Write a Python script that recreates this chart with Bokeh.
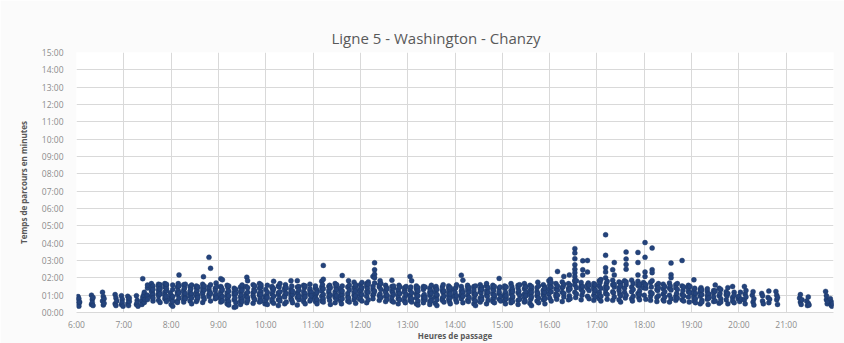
from bokeh.plotting import figure
from bokeh.models import FixedTicker, ColumnDataSource
from bokeh.embed import file_html
from bokeh.resources import INLINE

# Passages: minute within the hour, travel time in seconds
h06_min = [2, 2, 3, 3, 3, 4, 19, 19, 20, 20, 21, 21, 33, 33, 34, 34, 35, 35, 49, 49, 50, 50, 51, 57, 57, 58, 58, 59]
h06_sec = [55, 40, 30, 48, 22, 36, 60, 28, 45, 34, 52, 24, 70, 40, 55, 26, 48, 32, 62, 30, 50, 24, 40, 58, 28, 46, 35, 22]

h07_min = [5, 5, 6, 6, 7, 7, 16, 16, 17, 17, 18, 23, 23, 24, 24, 25, 26, 26, 27,
           30, 30, 30, 30, 35, 35, 35, 35, 36, 37, 37, 37, 37, 37, 44, 44, 44, 44, 44, 44,
           45, 46, 46, 46, 46, 52, 52, 52, 52, 52, 53, 54, 54, 54, 54, 54, 54, 59, 59]
h07_sec = [56, 30, 44, 24, 38, 50, 58, 28, 42, 34, 22, 40, 28, 117, 52, 60, 35, 70, 45,
           85, 60, 95, 45, 75, 100, 55, 88, 70, 40, 92, 62, 80, 50, 98, 66, 78, 42, 90, 58, 72,
           35, 96, 64, 82, 48, 100, 70, 60, 88, 52, 94, 38, 76, 84, 56, 98, 46, 68]

h08_min = [0, 0, 1, 2, 2, 2, 2, 2, 8, 8, 8, 8, 8, 9, 9, 10, 10, 10, 10, 16,
           16, 16, 16, 16, 16, 17, 18, 18, 18, 18, 24, 24, 24, 24, 24, 25, 26, 26, 26, 26,
           32, 32, 32, 32, 32, 33, 33, 34, 34, 34, 40, 40, 40, 40, 40, 41, 41, 42, 42, 42,
           48, 48, 48, 48, 48, 49, 50, 50, 50, 50, 56, 56, 56, 56, 57, 57, 58, 58]
h08_sec = [28, 60, 45, 22, 80, 38, 95, 55, 70, 40, 88, 62, 35, 75, 100, 130, 50, 68, 92, 44,
           78, 58, 96, 36, 72, 85, 52, 66, 98, 48, 62, 90, 40, 74, 56, 82, 30, 95, 64, 50,
           86, 38, 70, 58, 92, 76, 44, 60, 88, 52, 72, 98, 35, 66, 84, 54, 124, 78, 46, 92,
           62, 80, 55, 88, 191, 70, 40, 96, 153, 66, 58, 84, 48, 76, 102, 62, 90, 52]

h09_min = [3, 3, 3, 3, 3, 3, 4, 5, 5, 5, 5, 11, 11, 11, 11, 11, 12, 12, 13, 13,
           13, 13, 13, 20, 20, 20, 20, 20, 21, 22, 22, 22, 22, 28, 28, 28, 28, 28, 29, 30,
           30, 30, 30, 30, 35, 35, 35, 36, 36, 37, 37, 37, 37, 37, 44, 44, 44, 44, 45, 45,
           46, 46, 46, 52, 52, 52, 52, 52, 53, 54, 54, 54, 54, 54, 59, 59]
h09_sec = [70, 48, 90, 36, 117, 62, 84, 113, 55, 40, 78, 60, 94, 45, 68, 30, 86, 52, 74, 38,
           92, 58, 26, 70, 44, 84, 18, 62, 50, 80, 35, 66, 20, 88, 54, 40, 72, 28, 60, 82,
           46, 76, 95, 38, 64, 90, 56, 122, 34, 70, 110, 52, 86, 42, 68, 96, 58, 32, 80, 50,
           74, 44, 92, 60, 36, 84, 66, 100, 48, 72, 88, 40, 62, 96, 54, 30]

h10_min = [0, 0, 1, 2, 2, 2, 2, 8, 8, 8, 8, 8, 9, 10, 10, 10, 10, 16, 16, 16,
           16, 16, 17, 18, 18, 18, 18, 24, 24, 24, 24, 24, 25, 26, 26, 26, 32, 32, 32, 32,
           32, 33, 33, 34, 34, 34, 40, 40, 40, 40, 40, 41, 42, 42, 42, 42, 48, 48, 48, 48,
           48, 49, 50, 50, 50, 50, 56, 56, 56, 56, 56, 57, 58, 58]
h10_sec = [42, 80, 60, 94, 28, 70, 52, 86, 38, 64, 90, 46, 74, 56, 108, 32, 82, 62, 44, 92,
           68, 24, 88, 50, 72, 100, 40, 60, 84, 30, 76, 54, 96, 36, 66, 86, 48, 70, 110, 58,
           80, 42, 92, 62, 34, 74, 88, 52, 68, 26, 110, 64, 44, 90, 56, 78, 38, 94, 60, 72,
           48, 86, 66, 30, 92, 54, 76, 40, 98, 62, 82, 46, 70, 58]

h11_min = [3, 3, 3, 3, 3, 4, 5, 5, 5, 5, 11, 11, 11, 11, 11, 12, 13, 13, 13, 13,
           13, 13, 20, 20, 20, 20, 21, 21, 22, 22, 22, 28, 28, 28, 28, 28, 29, 30, 30, 30,
           30, 35, 35, 35, 35, 36, 37, 37, 37, 37, 37, 44, 44, 44, 44, 45, 45, 46, 46, 46,
           52, 52, 52, 52, 52, 53, 54, 54, 54, 54, 54, 59, 59, 59]
h11_sec = [60, 38, 84, 50, 92, 66, 44, 78, 30, 70, 108, 56, 88, 40, 74, 96, 163, 62, 48, 115,
           82, 36, 68, 90, 54, 76, 42, 94, 60, 28, 86, 52, 72, 100, 34, 64, 88, 46, 80, 58,
           96, 40, 70, 56, 84, 30, 92, 62, 48, 128, 74, 54, 88, 40, 66, 110, 50, 94, 36, 78,
           60, 105, 44, 86, 70, 52, 90, 32, 74, 58, 96, 46, 80, 64]

h12_min = [0, 0, 1, 2, 2, 2, 2, 8, 8, 8, 8, 8, 9, 10, 10, 10, 10, 16, 16, 16,
           16, 16, 17, 18, 18, 18, 18, 18, 18, 24, 24, 24, 24, 25, 25, 26, 26, 26, 32, 32,
           32, 32, 32, 33, 34, 34, 34, 40, 40, 40, 40, 40, 41, 42, 42, 42, 42, 48, 48, 48,
           48, 48, 49, 50, 50, 50, 56, 56, 56, 56, 56, 57, 58, 58]
h12_sec = [96, 50, 78, 104, 40, 86, 62, 100, 34, 72, 92, 56, 84, 106, 44, 70, 98, 60, 80, 125,
           48, 90, 66, 102, 74, 172, 148, 132, 120, 58, 88, 42, 96, 110, 64, 80, 52, 100, 38, 76,
           94, 56, 70, 86, 46, 82, 60, 112, 40, 74, 90, 54, 68, 36, 84, 62, 92, 48, 72, 30,
           80, 58, 94, 44, 66, 88, 40, 76, 52, 70, 86, 34, 62, 90]

h13_min = [3, 3, 3, 3, 3, 4, 5, 5, 5, 5, 11, 11, 11, 11, 11, 12, 13, 13, 13, 13,
           13, 20, 20, 20, 20, 20, 21, 22, 22, 22, 28, 28, 28, 28, 28, 29, 30, 30, 30, 30,
           35, 35, 35, 35, 36, 37, 37, 37, 37, 37, 44, 44, 44, 44, 45, 45, 46, 46, 46, 52,
           52, 52, 52, 52, 53, 54, 54, 54, 54, 54, 59, 59]
h13_sec = [125, 60, 42, 78, 54, 88, 110, 36, 68, 48, 82, 30, 64, 92, 50, 72, 40, 86, 58, 26,
           74, 46, 90, 56, 34, 80, 62, 44, 88, 52, 70, 38, 84, 60, 28, 76, 94, 48, 66, 40,
           86, 54, 72, 32, 90, 58, 44, 80, 62, 24, 76, 50, 88, 42, 68, 96, 36, 74, 56, 84,
           46, 70, 60, 92, 38, 78, 52, 86, 64, 30, 80, 56]

h14_min = [0, 1, 1, 2, 2, 2, 8, 8, 8, 8, 8, 8, 9, 10, 10, 10, 10, 16, 16, 16,
           16, 16, 17, 18, 18, 18, 24, 24, 24, 24, 24, 25, 26, 26, 26, 26, 32, 32, 32, 32,
           32, 33, 34, 34, 34, 34, 40, 40, 40, 40, 40, 41, 42, 42, 42, 48, 48, 48, 48, 48,
           49, 50, 50, 50, 50, 56, 56, 56, 56, 56, 57, 58, 58]
h14_sec = [70, 44, 86, 58, 96, 36, 74, 52, 90, 62, 129, 48, 80, 34, 70, 112, 56, 88, 42, 76,
           60, 94, 38, 72, 52, 86, 30, 66, 90, 46, 78, 58, 40, 92, 64, 24, 82, 50, 72, 96,
           36, 68, 88, 54, 44, 80, 62, 92, 30, 74, 100, 56, 86, 42, 70, 94, 48, 64, 82, 38,
           76, 52, 90, 60, 34, 84, 118, 66, 46, 72, 88, 56, 40]

h15_min = [3, 3, 3, 3, 3, 4, 4, 5, 5, 5, 11, 11, 11, 11, 11, 12, 13, 13, 13, 13,
           13, 20, 20, 20, 20, 20, 21, 22, 22, 22, 28, 28, 28, 28, 28, 29, 29, 30, 30, 30,
           35, 35, 35, 35, 36, 37, 37, 37, 37, 37, 44, 44, 44, 44, 45, 45, 46, 46, 46, 52,
           52, 52, 52, 52, 53, 54, 54, 54, 54, 54, 59, 59, 59]
h15_sec = [62, 40, 84, 54, 92, 30, 70, 48, 88, 58, 76, 44, 100, 66, 34, 90, 52, 80, 38, 72,
           56, 94, 42, 68, 86, 28, 74, 60, 96, 46, 100, 64, 36, 82, 52, 90, 40, 70, 58, 88,
           32, 76, 62, 94, 46, 80, 24, 68, 90, 54, 72, 40, 86, 58, 105, 66, 34, 92, 50, 78,
           62, 96, 44, 74, 56, 88, 30, 70, 84, 48, 110, 64, 80]

h16_min = [0, 0, 1, 2, 2, 2, 2, 8, 8, 8, 8, 9, 10, 10, 10, 10, 16, 16, 16, 16,
           17, 18, 18, 18, 18, 24, 24, 24, 24, 25, 25, 26, 26, 26, 32, 32, 32, 32, 32, 32,
           32, 32, 32, 32, 32, 33, 34, 34, 34, 40, 40, 40, 40, 41, 42, 42, 42, 42, 42, 48,
           48, 48, 48, 48, 49, 50, 50, 50, 56, 56, 56, 56, 56, 57, 58, 58, 58]
h16_sec = [96, 50, 115, 72, 88, 40, 104, 64, 82, 56, 100, 46, 78, 92, 142, 60, 86, 38, 106, 70,
           90, 54, 98, 125, 66, 84, 44, 100, 76, 130, 58, 94, 48, 82, 108, 221, 206, 186, 165, 150,
           138, 125, 112, 70, 96, 52, 86, 110, 64, 92, 44, 80, 104, 60, 90, 179, 148, 130, 72, 96,
           56, 180, 140, 84, 102, 48, 76, 94, 60, 88, 100, 42, 82, 70, 96, 54, 78]

h17_min = [3, 3, 3, 3, 3, 4, 5, 5, 5, 5, 11, 11, 11, 11, 11, 11, 11, 11, 12, 13,
           13, 13, 13, 20, 20, 20, 20, 20, 21, 22, 22, 22, 22, 22, 28, 28, 28, 28, 29, 30,
           30, 30, 30, 35, 35, 35, 36, 37, 37, 37, 37, 37, 37, 37, 44, 44, 44, 44, 45, 46,
           46, 46, 52, 52, 52, 52, 52, 52, 53, 54, 54, 54, 54, 54, 59, 59]
h17_sec = [70, 110, 48, 92, 60, 104, 40, 84, 114, 56, 90, 66, 269, 198, 155, 140, 120, 78, 100, 46,
           86, 62, 108, 148, 72, 96, 42, 112, 68, 88, 173, 130, 54, 98, 76, 106, 44, 86, 64, 102,
           58, 92, 36, 110, 70, 84, 50, 209, 185, 166, 150, 96, 60, 106, 48, 88, 72, 112, 40, 80,
           100, 56, 94, 208, 173, 130, 66, 108, 52, 90, 74, 44, 98, 62, 86, 104]

h18_min = [0, 0, 1, 1, 1, 1, 2, 2, 2, 8, 8, 8, 8, 9, 10, 10, 10, 10, 10, 16,
           16, 16, 16, 17, 18, 18, 18, 24, 24, 24, 24, 25, 26, 26, 26, 32, 32, 32, 32, 33,
           34, 34, 34, 34, 34, 40, 40, 40, 40, 41, 42, 42, 42, 48, 48, 48, 48, 49, 50, 50,
           50, 56, 56, 56, 56, 57, 58, 58]
h18_sec = [100, 60, 242, 191, 140, 125, 84, 46, 96, 70, 56, 104, 42, 88, 66, 110, 223, 148, 138, 80,
           52, 94, 38, 76, 100, 58, 86, 44, 98, 64, 82, 40, 90, 54, 72, 102, 36, 84, 60, 92,
           48, 171, 131, 120, 78, 56, 96, 42, 86, 66, 100, 50, 80, 62, 92, 180, 44, 76, 58, 88,
           40, 72, 94, 54, 84, 36, 68, 90]

h19_min = [3, 3, 3, 3, 3, 4, 5, 5, 5, 11, 11, 11, 11, 12, 13, 13, 13, 13, 20, 20,
           20, 20, 21, 22, 22, 28, 28, 28, 28, 30, 30, 30, 35, 35, 35, 36, 37, 37, 37, 44,
           44, 44, 45, 46, 46, 46, 52, 52, 52, 54, 54, 54, 59]
h19_sec = [60, 113, 40, 76, 52, 84, 34, 66, 48, 80, 30, 70, 56, 86, 42, 62, 78, 36, 58, 72,
           46, 82, 28, 64, 50, 76, 38, 68, 54, 95, 40, 74, 58, 84, 32, 66, 48, 80, 36, 62,
           72, 44, 58, 86, 30, 66, 90, 52, 40, 70, 60, 34, 48]

h20_min = [0, 1, 2, 3, 7, 7, 8, 8, 9, 9, 17, 18, 18, 19, 19, 29, 30, 30, 31, 37, 38, 38, 39, 47, 48, 48, 49, 49]
h20_sec = [56, 38, 70, 46, 90, 44, 64, 30, 54, 76, 60, 36, 72, 48, 26, 66, 40, 58, 30, 52, 74, 34, 46, 73, 44, 60, 28, 52]

h21_min = [17, 18, 18, 19, 20, 26, 27, 28, 28, 29, 50, 51, 51, 52, 53, 56, 57, 58, 58, 59]
h21_sec = [50, 36, 62, 28, 44, 40, 24, 54, 32, 26, 73, 44, 58, 30, 38, 48, 26, 36, 22, 30]

heures_ticks = [6, 7, 8, 9, 10, 11, 12, 13, 14, 15, 16, 17, 18, 19, 20, 21]
heures_labels = ["6:00", "7:00", "8:00", "9:00", "10:00", "11:00", "12:00", "13:00",
                 "14:00", "15:00", "16:00", "17:00", "18:00", "19:00", "20:00", "21:00"]
duree_ticks = [0, 1, 2, 3, 4, 5, 6, 7, 8, 9, 10, 11, 12, 13, 14, 15]
duree_labels = ["00:00", "01:00", "02:00", "03:00", "04:00", "05:00", "06:00", "07:00",
                "08:00", "09:00", "10:00", "11:00", "12:00", "13:00", "14:00", "15:00"]

groups = [(6, h06_min, h06_sec), (7, h07_min, h07_sec), (8, h08_min, h08_sec),
          (9, h09_min, h09_sec), (10, h10_min, h10_sec), (11, h11_min, h11_sec),
          (12, h12_min, h12_sec), (13, h13_min, h13_sec), (14, h14_min, h14_sec),
          (15, h15_min, h15_sec), (16, h16_min, h16_sec), (17, h17_min, h17_sec),
          (18, h18_min, h18_sec), (19, h19_min, h19_sec), (20, h20_min, h20_sec),
          (21, h21_min, h21_sec)]

xs, ys = [], []
for h, mins, secs in groups:
    assert len(mins) == len(secs), (h, len(mins), len(secs))
    for m, s in zip(mins, secs):
        xs.append(h + m / 60.0)
        ys.append(s / 60.0)

src = ColumnDataSource(data=dict(x=xs, y=ys))

FONT = "Open Sans"

p = figure(width=844, height=343, x_range=(6, 22), y_range=(0, 15),
           output_backend="svg", toolbar_location=None,
           min_border_left=76, min_border_right=11, min_border_top=52, min_border_bottom=30,
           background_fill_color="white", border_fill_color="#fbfbfb")
p.outline_line_color = None

p.title.text = "Ligne 5 - Washington - Chanzy"
p.title.align = "left"
p.title.offset = 255
p.title.text_font = FONT
p.title.text_font_size = "15px"
p.title.text_font_style = "normal"
p.title.text_color = "#595959"

p.scatter("x", "y", source=src, size=5, fill_color="#24437c", line_color="#1c3766", line_width=0.4)

p.xaxis.ticker = FixedTicker(ticks=heures_ticks)
p.xaxis.major_label_overrides = dict(zip(heures_ticks, heures_labels))
p.yaxis.ticker = FixedTicker(ticks=duree_ticks)
p.yaxis.major_label_overrides = dict(zip(duree_ticks, duree_labels))

for ax in (p.xaxis[0], p.yaxis[0]):
    ax.major_tick_line_color = None
    ax.minor_tick_line_color = None
    ax.major_label_text_font = FONT
    ax.major_label_text_font_size = "8.5px"
    ax.major_label_text_color = "#8c8c8c"
    ax.axis_label_text_font = FONT
    ax.axis_label_text_font_size = "8px"
    ax.axis_label_text_font_style = "bold"
    ax.axis_label_text_color = "#595959"

p.xaxis.axis_line_color = "#d9d9d9"
p.yaxis.axis_line_color = None
p.xaxis.axis_label = "Heures de passage"
p.yaxis.axis_label = "Temps de parcours en minutes"
p.xaxis.major_label_standoff = 0
p.xaxis.axis_label_standoff = -3
p.yaxis.major_label_standoff = 7
p.yaxis.axis_label_standoff = 10

p.xgrid.grid_line_color = "#d9d9d9"
p.ygrid.grid_line_color = "#d9d9d9"

open("out.html", "w").write(file_html(p, INLINE))
